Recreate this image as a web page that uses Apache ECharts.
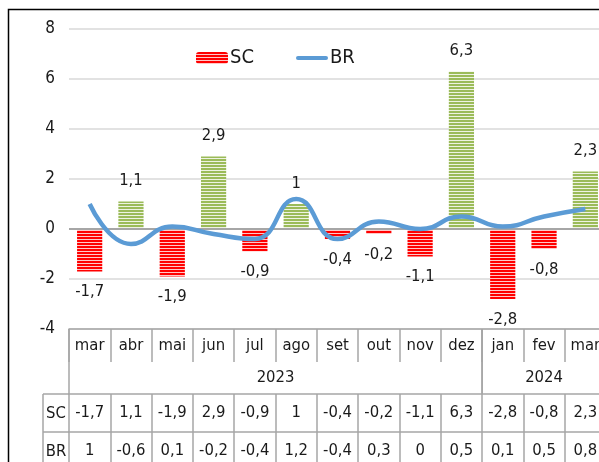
<!DOCTYPE html>
<html>
<head>
<meta charset="utf-8">
<script src="https://cdn.jsdelivr.net/npm/echarts@6/dist/echarts.min.js"></script>
<style>html,body{margin:0;padding:0;background:#fff;}#c{width:599px;height:462px;}</style>
</head>
<body>
<div id="c"></div>
<script>
const months = ['mar','abr','mai','jun','jul','ago','set','out','nov','dez','jan','fev','mar'];
const years = [{label:'2023', start:0, end:9},{label:'2024', start:10, end:12}];
const scValues = [-1.7, 1.1, -1.9, 2.9, -0.9, 1, -0.4, -0.2, -1.1, 6.3, -2.8, -0.8, 2.3];
const brValues = [1, -0.6, 0.1, -0.2, -0.4, 1.2, -0.4, 0.3, 0, 0.5, 0.1, 0.5, 0.8];
const yTicks = {min:-4, max:8, interval:2};

const FONT = "'Liberation Sans Narrow','DejaVu Sans Condensed',sans-serif";
const TXT = '#1a1a1a';
const LINE = '#a6a6a6';
const FS = 16.5;
const fmt = v => String(v).replace('.', ',');

function stripe(col, gap) {
  const c = document.createElement('canvas');
  c.width = 4; c.height = 3;
  const g = c.getContext('2d');
  g.fillStyle = gap; g.fillRect(0,0,4,3);
  g.fillStyle = col; g.fillRect(0,0,4,2);
  return {image: c, repeat: 'repeat'};
}
const redPat = stripe('#ff0000', '#ffc8c8');
const greenPat = stripe('#9bbb59', '#eef3e2');

const chart = echarts.init(document.getElementById('c'));
const grid = {left:69, top:29, width:537, height:300, outerBoundsMode:'none', containLabel:false};

function rowAxis(vals, offset) {
  return {
    type:'category', data: vals.map(fmt), position:'bottom', offset: offset,
    axisLine:{show:true, onZero:false, lineStyle:{color:LINE, width:1.5}},
    axisTick:{show:true, length:38, lineStyle:{color:LINE, width:1.5}},
    axisLabel:{margin:10, fontSize:FS, fontFamily:FONT, color:TXT, interval:0},
    splitLine:{show:false}
  };
}

chart.setOption({
  animation:false,
  textStyle:{fontFamily:FONT},
  grid: grid,
  legend: {
    left:196, top:48, padding:0, itemGap:42, itemWidth:32, itemHeight:12,
    textStyle:{fontSize:20, fontFamily:FONT, color:TXT, padding:[0,0,0,-3]},
    data:[{name:'SC'},{name:'BR', icon:'path://M2,0 H30 A2,2 0 0 1 30,4 H2 A2,2 0 0 1 2,0 Z'}]
  },
  xAxis: [
    {
      type:'category', data: months, position:'bottom',
      axisLine:{show:true, onZero:false, lineStyle:{color:LINE, width:1.5}},
      axisTick:{show:true, length:33, lineStyle:{color:LINE, width:1.5}},
      axisLabel:{margin:8, fontSize:FS, fontFamily:FONT, color:TXT, interval:0},
      splitLine:{show:false}
    },
    rowAxis(scValues, 65),
    rowAxis(brValues, 103)
  ],
  yAxis: {
    type:'value', min:yTicks.min, max:yTicks.max, interval:yTicks.interval,
    axisLine:{show:false}, axisTick:{show:false},
    axisLabel:{margin:14, fontSize:17, fontFamily:FONT, color:TXT, formatter: v => fmt(v)},
    splitLine:{lineStyle:{color:'#d9d9d9', width:1.5}}
  },
  series: [
    {
      name:'SC', type:'bar', barWidth:'61%',
      itemStyle:{color: redPat},
      data: scValues.map(v => ({
        value: v,
        itemStyle:{color: v < 0 ? redPat : greenPat},
        label:{position: v < 0 ? 'bottom' : 'top'}
      })),
      label:{show:true, distance:12, fontSize:FS, fontFamily:FONT, color:TXT, formatter: p => fmt(p.value)},
      markLine:{silent:true, symbol:'none', label:{show:false},
        lineStyle:{color:'#a6a6a6', width:2, type:'solid'}, data:[{yAxis:0}]},
      z:2
    },
    {
      name:'BR', type:'line', data: brValues, smooth:0.5, symbol:'none',
      lineStyle:{color:'#5b9bd5', width:4.5}, itemStyle:{color:'#5b9bd5'}, z:5
    }
  ]
});

// table decoration: year row, row headers, borders
const px = i => chart.convertToPixel({xAxisIndex:0}, i);
const band = px(1) - px(0);
const tTop = grid.top + grid.height;   // 329
const yRowBot = tTop + 65;              // 394
const scBot = tTop + 103;               // 432
const hdrLeft = 43;
const gfx = [];
const L = (x1,y1,x2,y2) => gfx.push({type:'line', silent:true, z:10,
  shape:{x1,y1,x2,y2}, style:{stroke:LINE, lineWidth:1.5}});
years.forEach(y => {
  const x0 = px(y.start) - band/2, x1 = px(y.end) + band/2;
  L(x0, tTop, x0, yRowBot);
  L(x1, tTop, x1, yRowBot);
  gfx.push({type:'text', silent:true, z:10, x:(x0+x1)/2, y:(tTop+33+yRowBot)/2,
    style:{text:y.label, fontSize:FS, fontFamily:FONT, fill:TXT, align:'center', verticalAlign:'middle'}});
});
L(hdrLeft, yRowBot, grid.left, yRowBot);
L(hdrLeft, scBot, grid.left, scBot);
L(hdrLeft, yRowBot, hdrLeft, 480);
[['SC', (yRowBot+scBot)/2], ['BR', scBot+19]].forEach(([t, yy]) => {
  gfx.push({type:'text', silent:true, z:10, x:(hdrLeft+grid.left)/2, y:yy+1,
    style:{text:t, fontSize:FS, fontFamily:FONT, fill:TXT, align:'center', verticalAlign:'middle'}});
});
gfx.push({type:'rect', silent:true, z:10, shape:{x:8.5, y:9.5, width:700, height:600},
  style:{fill:'none', stroke:'#000', lineWidth:1.5}});
chart.setOption({graphic: gfx});
</script>
</body>
</html>
